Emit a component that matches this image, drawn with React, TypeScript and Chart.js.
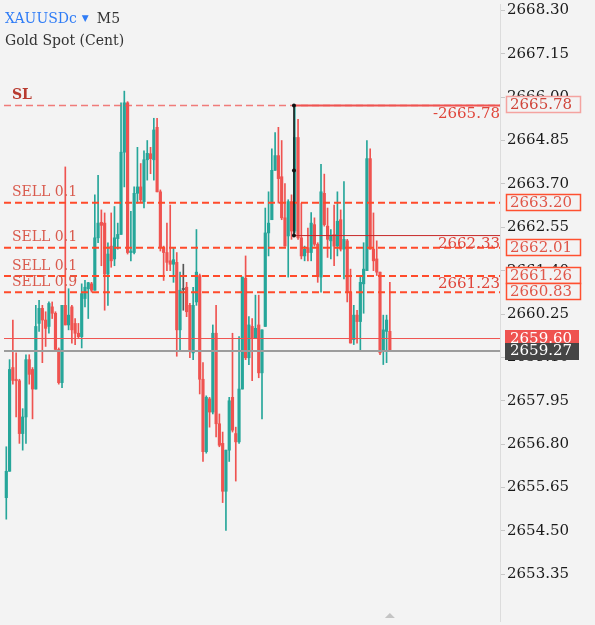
import React, { useEffect, useRef } from "react";
import { Chart, registerables } from "chart.js";
Chart.register(...registerables);

const FONT = "'DejaVu Serif', serif";
const BG = "#f3f3f3";
const UP = "#26a69a";
const DOWN = "#ef5350";
const DOJI = "#555555";

const opens = [
  2655.38, 2656.08, 2658.83, 2658.52, 2658.48, 2657.08, 2657.52, 2659.04, 2658.78, 2658.26,
  2660.0, 2660.4, 2660.09, 2659.92, 2660.44, 2660.27, 2659.31, 2658.43, 2660.48, 2659.96,
  2660.44, 2660.0, 2659.74, 2659.65, 2660.66, 2660.92, 2661.05, 2660.88, 2662.27, 2662.68,
  2662.66, 2661.31, 2662.05, 2661.71, 2662.25, 2662.36, 2664.54, 2665.85, 2661.88, 2661.88,
  2663.45, 2663.62, 2663.23, 2664.34, 2664.5, 2664.34, 2665.2, 2663.49, 2662.01, 2661.88,
  2661.66, 2661.57, 2661.62, 2659.83, 2660.9, 2660.96, 2660.48, 2659.22, 2660.57, 2661.27,
  2658.52, 2656.6, 2658.0, 2657.65, 2659.74, 2657.34, 2656.82, 2655.55, 2656.64, 2658.04,
  2657.08, 2656.86, 2658.26, 2661.2, 2659.09, 2659.92, 2659.61, 2659.96, 2658.69, 2659.92,
  2662.4, 2662.75, 2664.06, 2664.45, 2663.89, 2662.8, 2662.32, 2663.23, 2662.45, 2664.93,
  2662.27, 2661.79, 2662.01, 2661.88, 2662.62, 2662.1, 2661.23, 2663.45, 2662.58, 2662.19,
  2662.36, 2662.05, 2662.75, 2661.97, 2662.19, 2660.83, 2659.57, 2660.22, 2660.05, 2661.05,
  2661.4, 2664.37, 2661.97, 2661.71, 2661.36, 2659.26, 2659.79, 2659.79,
];
const highs = [
  2656.73, 2659.04, 2660.09, 2659.22, 2658.52, 2657.74, 2659.17, 2659.17, 2658.83, 2660.48,
  2660.61, 2660.48, 2660.31, 2660.57, 2660.57, 2660.31, 2659.35, 2660.48, 2664.15, 2660.92,
  2660.48, 2660.13, 2660.0, 2661.05, 2661.14, 2661.09, 2661.09, 2663.41, 2663.93, 2663.01,
  2662.93, 2662.14, 2662.93, 2663.1, 2662.66, 2665.85, 2666.16, 2665.88, 2662.97, 2663.62,
  2664.67, 2664.24, 2664.58, 2664.85, 2664.67, 2665.44, 2665.44, 2663.54, 2662.05, 2662.66,
  2663.14, 2662.01, 2661.88, 2661.36, 2661.57, 2661.09, 2660.53, 2660.96, 2662.49, 2661.31,
  2658.96, 2658.08, 2658.04, 2659.96, 2660.48, 2657.6, 2657.12, 2656.64, 2658.04, 2659.74,
  2657.25, 2659.65, 2661.23, 2661.79, 2660.18, 2660.13, 2660.75, 2660.75, 2659.83, 2663.06,
  2663.49, 2664.63, 2665.06, 2665.2, 2664.85, 2663.71, 2663.28, 2663.41, 2665.78, 2665.41,
  2663.19, 2662.05, 2662.53, 2662.94, 2662.8, 2662.14, 2664.22, 2663.96, 2663.06, 2662.49,
  2663.14, 2663.49, 2663.01, 2663.76, 2662.23, 2661.44, 2660.48, 2660.35, 2661.27, 2662.14,
  2664.85, 2664.63, 2662.93, 2662.19, 2661.36, 2660.22, 2660.22, 2661.09,
];
const lows = [
  2654.81, 2656.08, 2658.39, 2657.52, 2656.82, 2656.64, 2656.82, 2658.39, 2657.47, 2658.26,
  2659.79, 2658.96, 2659.39, 2659.74, 2660.13, 2659.31, 2658.39, 2658.3, 2659.96, 2659.83,
  2659.48, 2659.44, 2659.61, 2659.35, 2660.44, 2660.13, 2660.83, 2660.88, 2662.14, 2661.53,
  2660.35, 2660.48, 2661.49, 2661.53, 2661.97, 2662.36, 2663.62, 2661.84, 2661.66, 2661.84,
  2663.19, 2663.23, 2663.06, 2663.8, 2663.97, 2663.8, 2663.49, 2661.92, 2661.14, 2661.4,
  2661.4, 2661.09, 2659.13, 2659.26, 2660.35, 2660.18, 2659.09, 2659.04, 2660.48, 2658.13,
  2656.34, 2656.56, 2657.25, 2657.6, 2656.99, 2656.73, 2655.25, 2654.51, 2656.34, 2657.12,
  2655.82, 2656.82, 2658.26, 2659.04, 2658.91, 2658.48, 2659.61, 2658.56, 2657.47, 2659.92,
  2661.79, 2662.75, 2664.06, 2663.19, 2662.75, 2662.05, 2661.23, 2662.23, 2662.4, 2662.23,
  2661.71, 2661.66, 2661.66, 2661.66, 2662.05, 2661.09, 2660.83, 2662.58, 2661.75, 2661.71,
  2661.53, 2661.79, 2661.92, 2661.18, 2660.57, 2659.48, 2659.44, 2659.48, 2659.26, 2660.27,
  2661.4, 2661.97, 2661.4, 2661.27, 2659.17, 2658.91, 2658.96, 2659.26,
];
const closes = [
  2656.08, 2658.78, 2658.49, 2658.48, 2657.08, 2657.52, 2659.04, 2658.65, 2658.26, 2659.92,
  2660.4, 2660.09, 2659.87, 2660.53, 2660.27, 2659.31, 2658.43, 2660.48, 2659.96, 2660.22,
  2659.83, 2659.74, 2659.65, 2660.79, 2660.96, 2661.08, 2660.88, 2662.27, 2662.66, 2662.6,
  2661.31, 2661.84, 2661.66, 2662.27, 2662.36, 2664.54, 2665.85, 2661.88, 2661.92, 2663.45,
  2663.62, 2663.28, 2664.34, 2664.51, 2664.37, 2665.13, 2663.49, 2662.01, 2661.88, 2661.62,
  2661.57, 2661.69, 2659.83, 2660.88, 2660.9, 2660.31, 2659.26, 2660.48, 2661.36, 2658.52,
  2656.6, 2658.04, 2657.65, 2659.74, 2657.34, 2656.77, 2655.55, 2656.64, 2657.95, 2657.17,
  2656.86, 2658.26, 2661.23, 2659.09, 2659.96, 2659.61, 2659.87, 2658.69, 2659.83, 2662.4,
  2662.66, 2664.06, 2664.45, 2663.84, 2662.8, 2662.05, 2663.23, 2662.45, 2664.93, 2662.27,
  2661.79, 2661.97, 2661.88, 2662.66, 2662.1, 2661.27, 2663.49, 2662.62, 2662.23, 2662.34,
  2662.05, 2662.71, 2661.97, 2662.23, 2660.83, 2659.48, 2660.22, 2660.05, 2661.09, 2661.44,
  2664.37, 2661.97, 2661.66, 2661.36, 2659.22, 2659.83, 2660.09, 2659.27,
];

const yTicks = [
  2653.35, 2654.5, 2655.65, 2656.8, 2657.95, 2659.1, 2660.25, 2661.4, 2662.55, 2663.7,
  2664.85, 2666.0, 2667.15, 2668.3,
];
const slLevel = 2665.78;
const orderLevels = [2663.2, 2662.01, 2661.26, 2660.83];
const orderLabels = ["SELL 0.1", "SELL 0.1", "SELL 0.1", "SELL 0.9"];
const askPrice = 2659.6;
const bidPrice = 2659.27;
const measureLow = 2662.33;
const measureMid = 2664.055;
const measureIndex = 87.75;
const sideTexts = ["-2665.78", "2662.33", "2661.23"];
const sideAnchors = [2665.78, 2662.01, 2660.83];
const symbol = "XAUUSDc";
const timeframe = "M5";
const description = "Gold Spot (Cent)";

const X_MIN = -0.7;
const X_MAX = 150.6;

export default function App() {
  const ref = useRef<HTMLCanvasElement | null>(null);

  useEffect(() => {
    document.body.style.margin = "0";
    document.body.style.background = BG;
    const canvas = ref.current!;
    const idx = opens.map((_, i) => i);
    const colors = idx.map((i) =>
      closes[i] > opens[i] ? UP : closes[i] < opens[i] ? DOWN : DOJI
    );
    const wickData = idx.map((i) => ({ x: i, y: [lows[i], highs[i]] }));
    const bodyData = idx.map((i) => ({
      x: i,
      y: [Math.min(opens[i], closes[i]), Math.max(opens[i], closes[i])],
    }));
    const hLine = (y: number, x0 = X_MIN, x1 = X_MAX) => [
      { x: x0, y },
      { x: x1, y },
    ];
    const lineDs = (data: any[], color: string, width: number, dash: number[] = [], extra: any = {}) => ({
      type: "line",
      data,
      borderColor: color,
      backgroundColor: color,
      borderWidth: width,
      borderDash: dash,
      pointRadius: 0,
      fill: false,
      tension: 0,
      order: 1,
      ...extra,
    });

    const overlay = {
      id: "overlay",
      beforeDraw(chart: any) {
        const c = chart.ctx;
        c.save();
        c.fillStyle = BG;
        c.fillRect(0, 0, chart.width, chart.height);
        c.restore();
      },
      afterDraw(chart: any) {
        const c = chart.ctx;
        const ys = chart.scales.y;
        const xs = chart.scales.x;
        const Y = (v: number) => ys.getPixelForValue(v);
        const right = chart.chartArea.right;
        c.save();
        c.textBaseline = "middle";
        // header
        c.textAlign = "left";
        c.font = `14px ${FONT}`;
        c.fillStyle = "#2f7cf6";
        c.fillText(symbol, 5, 19);
        const w = c.measureText(symbol).width;
        c.font = `9px ${FONT}`;
        c.fillText("▼", 5 + w + 5, 19);
        c.font = `14px ${FONT}`;
        c.fillStyle = "#333";
        c.fillText(timeframe, 5 + w + 20, 19);
        c.fillText(description, 5, 41);
        // order labels
        c.font = `bold 14px ${FONT}`;
        c.fillStyle = "#b83b30";
        c.fillText("SL", 12, Y(slLevel) - 10);
        c.font = `14px ${FONT}`;
        c.fillStyle = "#d95a4d";
        orderLevels.forEach((v, i) => c.fillText(orderLabels[i], 12, Y(v) - 10));
        // right-side texts
        c.font = `15px ${FONT}`;
        c.textAlign = "right";
        c.fillStyle = "#e0453a";
        const dys = [9, -4, -8];
        sideTexts.forEach((t, i) => c.fillText(t, right, Y(sideAnchors[i]) + dys[i]));
        // axis boxes
        c.textAlign = "left";
        c.font = `15px ${FONT}`;
        const box = (v: number, stroke: string | null, fill: string, text: string) => {
          const y = Math.round(Y(v));
          c.fillStyle = fill;
          c.fillRect(right + 6, y - 9, 75, 17);
          if (stroke) {
            c.strokeStyle = stroke;
            c.lineWidth = 1.5;
            c.strokeRect(right + 6.5, y - 8.5, 74, 16);
          }
          c.fillStyle = text;
          c.fillText(v.toFixed(2), right + 10, y + 0.5);
        };
        box(slLevel, "#f4a3a0", BG, "#d0453a");
        orderLevels.forEach((v) => box(v, "#ff5030", BG, "#e0574a"));
        // ask / bid
        const ay = Math.round(Y(askPrice));
        c.fillStyle = "#ef5350";
        c.fillRect(right + 5, ay - 9, 74, 17);
        c.fillStyle = "#fff";
        c.fillText(askPrice.toFixed(2), right + 10, ay);
        const by = Math.round(Y(bidPrice));
        c.fillStyle = "#454545";
        c.fillRect(right + 5, by - 8, 74, 17);
        c.fillStyle = "#fff";
        c.fillText(bidPrice.toFixed(2), right + 10, by + 0.5);
        // time marker at last candle
        const tx = xs.getPixelForValue(opens.length - 1);
        const ty = chart.chartArea.bottom;
        c.fillStyle = "#c4c4c4";
        c.beginPath();
        c.moveTo(tx - 5, ty - 3);
        c.lineTo(tx + 5, ty - 3);
        c.lineTo(tx, ty - 8);
        c.closePath();
        c.fill();
        c.restore();
      },
    };

    const chart = new Chart(canvas, {
      type: "bar",
      data: {
        datasets: [
          lineDs(hLine(slLevel), "rgba(239,83,80,0.75)", 1.5, [7, 4]),
          lineDs(hLine(slLevel, measureIndex), "#ef5350", 2),
          ...orderLevels.map((v) => lineDs(hLine(v), "#ff4a2a", 2, [7, 4])),
          lineDs(hLine(measureLow, measureIndex), "#c62828", 1),
          lineDs(hLine(askPrice), "#ef5350", 1),
          lineDs(hLine(bidPrice), "#9c9c9c", 2),
          lineDs(
            [
              { x: measureIndex, y: slLevel },
              { x: measureIndex, y: measureMid },
              { x: measureIndex, y: measureLow },
            ],
            "#111",
            1.5,
            [],
            { pointRadius: 2, pointBackgroundColor: "#111", pointBorderWidth: 0, order: 0 }
          ),
          {
            type: "bar",
            data: wickData,
            backgroundColor: colors,
            barThickness: 1,
            grouped: false,
            order: 3,
          },
          {
            type: "bar",
            data: bodyData,
            backgroundColor: colors,
            barThickness: 2.5,
            minBarLength: 1,
            grouped: false,
            order: 2,
          },
        ] as any,
      },
      options: {
        responsive: false,
        animation: false,
        events: [],
        layout: { padding: 0 },
        plugins: { legend: { display: false }, tooltip: { enabled: false } },
        scales: {
          x: { type: "linear", display: false, min: X_MIN, max: X_MAX, offset: false },
          y: {
            position: "right",
            min: 2652.11,
            max: 2668.47,
            afterBuildTicks: (s: any) => {
              s.ticks = yTicks.map((v) => ({ value: v }));
            },
            afterFit: (s: any) => {
              s.width = 95;
              s.paddingTop = 0;
              s.paddingBottom = 0;
            },
            ticks: {
              autoSkip: false,
              color: "#1a1a1a",
              padding: 2,
              font: { family: FONT, size: 15 },
              callback: (v: any) => Number(v).toFixed(2),
            },
            grid: { drawOnChartArea: false, drawTicks: true, tickLength: 5, color: "#c8c8c8" },
            border: { display: true, color: "#dcdcdc" },
          },
        },
      } as any,
      plugins: [overlay],
    });
    return () => chart.destroy();
  }, []);

  return (
    <div style={{ width: 595, height: 625, position: "relative", background: BG }}>
      <canvas ref={ref} width={595} height={625} style={{ display: "block" }} />
    </div>
  );
}
